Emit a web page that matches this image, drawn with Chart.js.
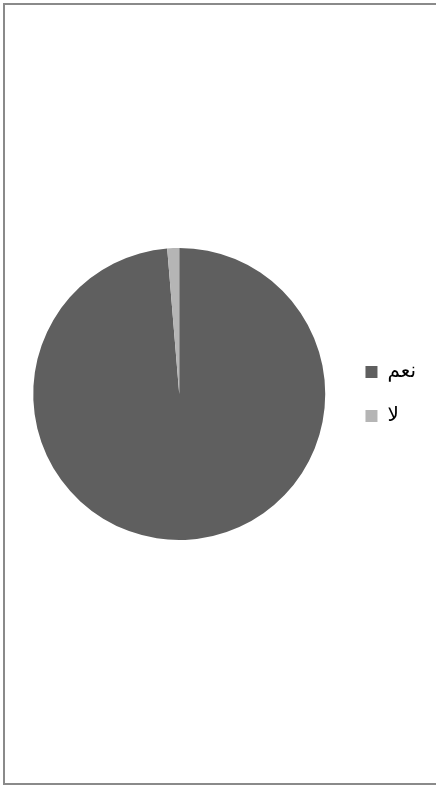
<!DOCTYPE html>
<html>
<head>
<meta charset="utf-8">
<script src="https://cdn.jsdelivr.net/npm/chart.js@4/dist/chart.umd.min.js"></script>
<style>
  html, body { margin: 0; padding: 0; background: #fff; }
  #frame {
    position: absolute; left: 3px; top: 3px;
    width: 440px; height: 778px;
    border: 2px solid #8a8a8a;
    box-sizing: content-box;
  }
  #chart { display: block; }
</style>
</head>
<body>
<div id="frame"><canvas id="chart" width="431" height="778"></canvas></div>
<script>
const labels = ['نعم', 'لا'];
const counts = [75, 1];
const colors = ['#5f5f5f', '#b5b5b5'];

const ctx = document.getElementById('chart');
const pieChart = new Chart(ctx, {
    type: 'pie',
    data: {
        labels: labels,
        datasets: [{
            data: counts,
            backgroundColor: colors,
            borderWidth: 0,
            radius: 146
        }]
    },
    options: {
        responsive: false,
        animation: false,
        layout: {
            padding: { left: 12, right: 10, top: 0, bottom: 0 }
        },
        plugins: {
            tooltip: { enabled: false },
            legend: {
                position: 'right',
                labels: {
                    boxWidth: 12,
                    boxHeight: 12,
                    padding: 24,
                    color: '#000',
                    font: { family: 'DejaVu Sans', size: 20 }
                }
            }
        }
    }
});
</script>
</body>
</html>
